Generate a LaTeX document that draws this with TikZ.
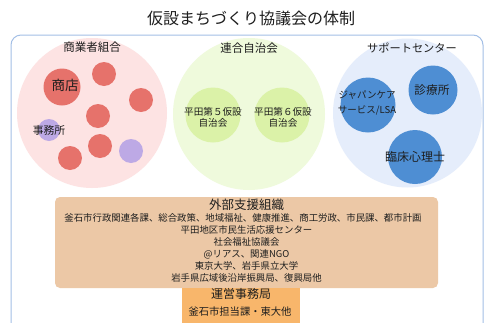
\documentclass[tikz,border=0pt]{standalone}
\usepackage{fontspec}
\setmainfont{Noto Sans CJK JP}
\definecolor{txt}{HTML}{1E1E1E}
\definecolor{frame}{HTML}{A3BFE6}
\definecolor{pinkbg}{HTML}{FDE3E3}
\definecolor{redc}{HTML}{E6726B}
\definecolor{purc}{HTML}{BDA9E5}
\definecolor{greenbg}{HTML}{EFFADC}
\definecolor{greenc}{HTML}{DBF2A8}
\definecolor{bluebg}{HTML}{E5EDFB}
\definecolor{bluec}{HTML}{4E8ED3}
\definecolor{tanbox}{HTML}{ECC8A6}
\definecolor{orangebox}{HTML}{F8B66B}
\newcommand{\fsz}[1]{\fontsize{#1pt}{#1pt}\selectfont}
\tikzset{
  every node/.style={inner sep=0pt, outer sep=0pt, text=txt},
  disc/.style={circle, draw=none, minimum size=#1},
  lbl/.style={font=\fsz{#1}},
  tanline/.style={font=\fsz{9.4}},
}
\begin{document}
\begin{tikzpicture}[x=1pt, y=-1pt]
\clip (0,0) rectangle (485,322);
\fill[white] (0,0) rectangle (485,322);
% title
\node[lbl=16] (title) at (251,18) {仮設まちづくり協議会の体制};
% outer frame
\draw[frame, line width=1pt, rounded corners=10pt, fill=white] (11,35) rectangle (483,340);
% big circles
\node[disc=150pt, fill=pinkbg] (pinkc) at (92,113) {};
\node[disc=152pt, fill=greenbg] (greenc) at (249,114) {};
\node[disc=149pt, fill=bluebg] (bluec) at (407.5,113) {};
\node[lbl=11.5] (lpink) at (92,47) {商業者組合};
\node[lbl=11.5] (lgreen) at (249,48) {連合自治会};
\node[lbl=11.2] (lblue) at (412,48) {サポートセンター};
% pink inner circles
\node[disc=37pt, fill=redc] (shop) at (62,87) {};
\node[disc=24pt, fill=redc] (r1) at (104,74) {};
\node[disc=24pt, fill=redc] (r2) at (141,100) {};
\node[disc=24pt, fill=redc] (r3) at (98,116) {};
\node[disc=22pt, fill=purc] (p1) at (49,130) {};
\node[disc=24pt, fill=redc] (r4) at (100,146) {};
\node[disc=24pt, fill=redc] (r5) at (70,158) {};
\node[disc=24pt, fill=purc] (p2) at (131,151) {};
\node[lbl=13.5] (tshop) at (65,85) {商店};
\node[lbl=10.8] (toffice) at (49,130) {事務所};
% green inner circles
\node[disc=55pt, fill=greenc] (g1) at (213,115) {};
\node[disc=55pt, fill=greenc] (g2) at (282,115) {};
\node[align=center, font=\fontsize{9.6pt}{11.5pt}\selectfont] (tg1) at (213,117.5) {平田第５仮設\\自治会};
\node[align=center, font=\fontsize{9.6pt}{11.5pt}\selectfont] (tg2) at (283,117.5) {平田第６仮設\\自治会};
% blue inner circles
\node[disc=55pt, fill=bluec] (b1) at (368,105) {};
\node[disc=49pt, fill=bluec] (b2) at (433,90) {};
\node[disc=54pt, fill=bluec] (b3) at (415,157) {};
\node[align=center, font=\fontsize{9.5pt}{15pt}\selectfont] (tb1) at (367,103) {ジャパンケア\\サービス/LSA};
\node[lbl=11.7] (tb2) at (432,90) {診療所};
\node[lbl=12] (tb3) at (415,157) {臨床心理士};
% external support box
\fill[tanbox, rounded corners=5pt] (55,197) rectangle (438,288);
\node[lbl=12.5] (ext) at (246.5,205) {外部支援組織};
\node[tanline] (e1) at (243,217.5) {釜石市行政関連各課、総合政策、地域福祉、健康推進、商工労政、市民課、都市計画};
\node[tanline] (e2) at (246.5,230) {平田地区市民生活応援センター};
\node[tanline] (e3) at (246.5,242) {社会福祉協議会};
\node[tanline] (e4) at (246.5,254) {@リアス、関連NGO};
\node[tanline] (e5) at (246.5,266) {東京大学、岩手県立大学};
\node[tanline] (e6) at (246.5,278) {岩手県広域後沿岸振興局、復興局他};
% operations office
\fill[orangebox] (182,287.5) rectangle (300,330);
\node[lbl=12] (ops) at (241,293.5) {運営事務局};
\node[lbl=10.3] (ops2) at (240,312) {釜石市担当課・東大他};
\end{tikzpicture}
\end{document}
